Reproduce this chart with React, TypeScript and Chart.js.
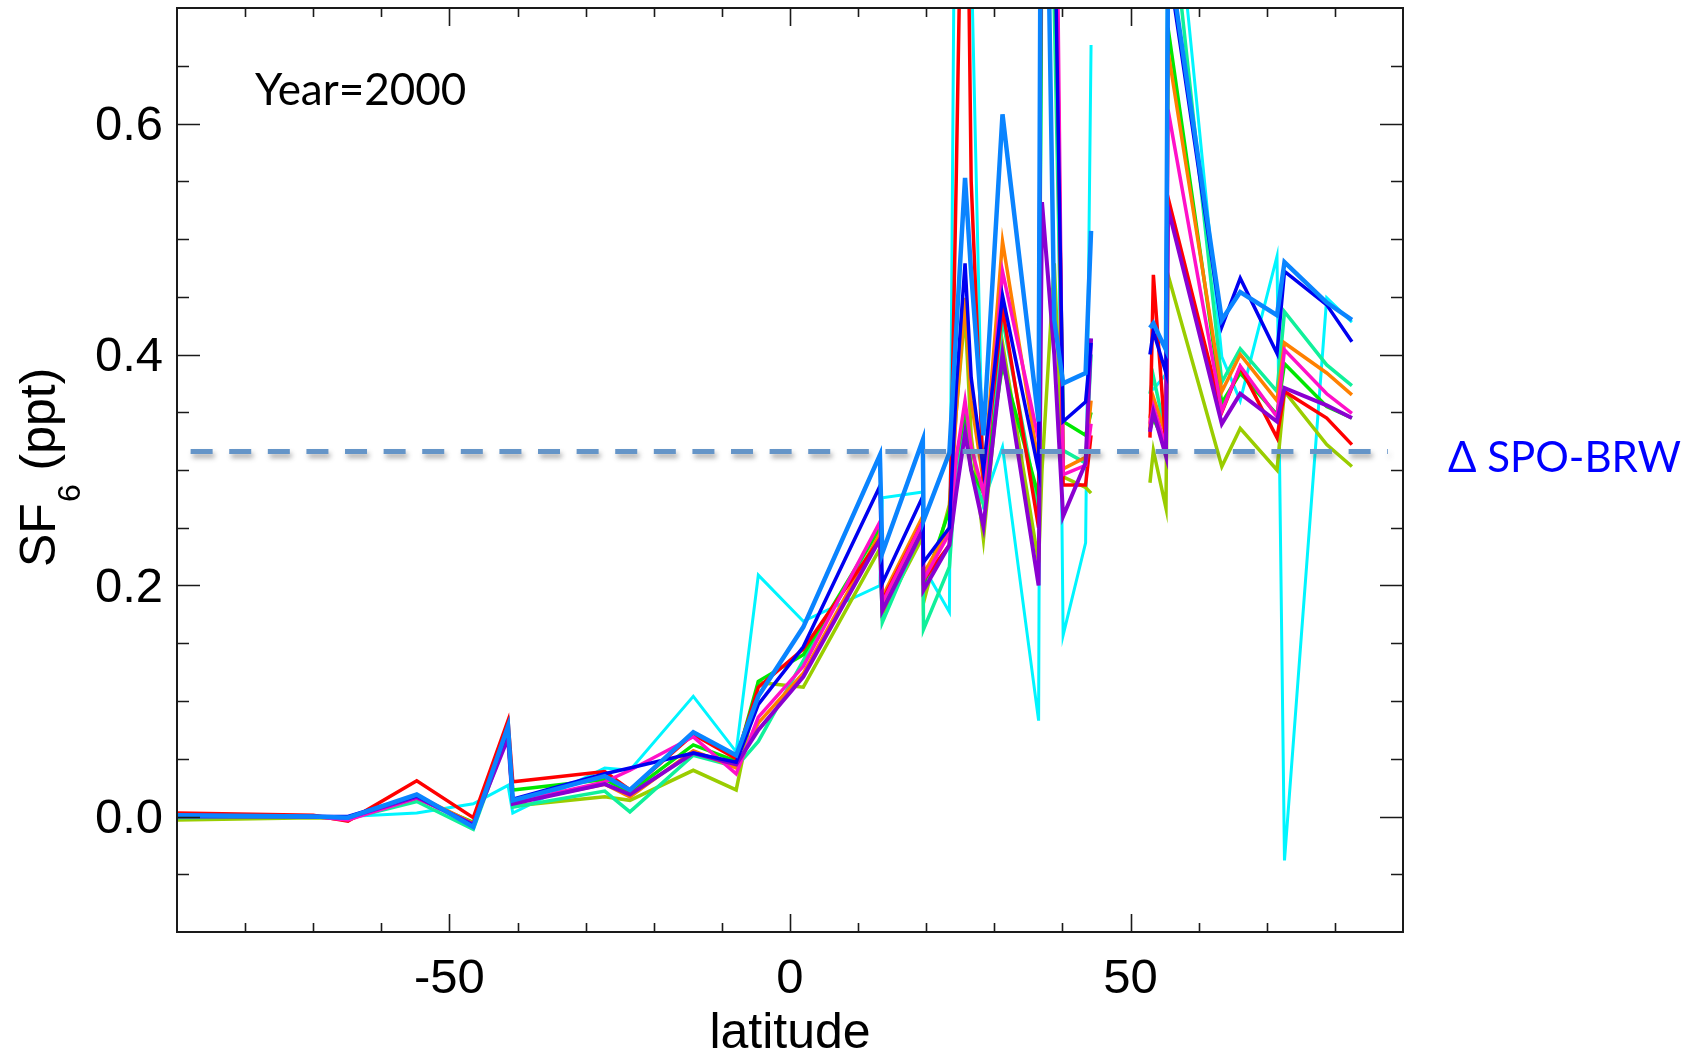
import { useEffect, useRef } from "react";
import { Chart, registerables } from "chart.js";

Chart.register(...registerables);

// ---------------- data ----------------
const latitudes = [
  -89.98, -70.0, -64.9, -54.8, -46.5, -41.4, -40.7, -27.2, -23.5, -14.2,
  -7.9, -4.65, 1.95, 13.2, 13.55, 19.5, 19.6, 23.4, 24.4, 25.7,
  26.6, 28.4, 31.2, 36.5, 37.0, 38.8, 40.1, 43.4, 44.2, 48.0,
  52.85, 53.35, 55.2, 55.5, 63.4, 66.1, 71.5, 72.6, 78.8, 82.5,
];

const sf6Red = [
  0.003, 0.001, -0.004, 0.031, -0.001, 0.083, 0.030, 0.039, 0.023, 0.071,
  0.050, 0.112, 0.145, 0.240, 0.187, 0.255, 0.205, 0.235, 0.55, 1.0,
  0.55, 0.29, 0.44, 0.25, 1.0, 0.9, 0.287, 0.287, 0.33, null,
  0.328, 0.469, 0.32, 0.536, 0.35, 0.389, 0.328, 0.368, 0.345, 0.322,
];
const sf6Orange = [
  0.001, 0.0, -0.003, 0.018, -0.006, 0.075, 0.012, 0.028, 0.017, 0.057,
  0.042, 0.081, 0.124, 0.245, 0.19, 0.26, 0.21, 0.25, 0.35, 0.449,
  0.36, 0.29, 0.498, 0.305, 1.0, 0.9, 0.301, 0.311, 0.36, null,
  0.345, 0.363, 0.33, 0.663, 0.368, 0.40, 0.36, 0.41, 0.384, 0.365,
];
const sf6YellowGreen = [
  -0.003, -0.001, -0.002, 0.016, -0.006, 0.072, 0.009, 0.017, 0.014, 0.040,
  0.023, 0.116, 0.112, 0.232, 0.175, 0.242, 0.185, 0.27, 0.35, 0.437,
  0.33, 0.24, 0.41, 0.22, 0.30, 0.479, 0.294, 0.285, 0.28, null,
  0.289, 0.317, 0.267, 0.469, 0.303, 0.336, 0.30, 0.368, 0.322, 0.303,
];
const sf6Green = [
  0.0, 0.0, -0.001, 0.016, -0.005, 0.074, 0.023, 0.032, 0.021, 0.062,
  0.048, 0.117, 0.14, 0.25, 0.182, 0.254, 0.2, 0.265, 0.31, 0.35,
  0.3, 0.28, 0.391, 0.277, 0.85, 0.8, 0.342, 0.33, 0.35, null,
  0.335, 0.345, 0.32, 0.683, 0.358, 0.384, 0.348, 0.392, 0.355, 0.345,
];
const sf6SpringGreen = [
  -0.001, 0.0, -0.002, 0.013, -0.011, 0.072, 0.008, 0.022, 0.004, 0.053,
  0.043, 0.065, 0.135, 0.25, 0.168, 0.25, 0.162, 0.216, 0.30, 0.34,
  0.30, 0.27, 0.431, 0.265, 0.8, 0.7, 0.317, 0.306, 0.40, null,
  0.366, 0.381, 0.33, 0.81, 0.376, 0.405, 0.368, 0.437, 0.391, 0.373,
];
const sf6Cyan = [
  0.0, 0.0, 0.0, 0.003, 0.011, 0.027, 0.003, 0.042, 0.040, 0.104,
  0.056, 0.209, 0.169, 0.20, 0.276, 0.281, 0.216, 0.177, 1.0, 1.0,
  0.75, 0.272, 0.32, 0.083, 0.9, 0.9, 0.157, 0.237, 0.668, null,
  0.37, 0.37, 0.383, 0.87, 0.398, 0.36, 0.485, -0.038, 0.449, 0.428,
];
const sf6DodgerBlue = [
  0.001, 0.0, -0.001, 0.019, -0.009, 0.078, 0.014, 0.035, 0.023, 0.073,
  0.053, 0.104, 0.164, 0.313, 0.228, 0.326, 0.256, 0.315, 0.42, 0.553,
  0.47, 0.33, 0.608, 0.342, 1.1, 0.43, 0.375, 0.384, 0.507, null,
  0.423, 0.427, 0.404, 0.75, 0.43, 0.454, 0.434, 0.48, 0.445, 0.43,
];
const sf6Blue = [
  0.001, 0.0, 0.0, 0.018, -0.008, 0.076, 0.015, 0.037, 0.042, 0.055,
  0.047, 0.097, 0.147, 0.286, 0.202, 0.277, 0.22, 0.25, 0.37, 0.479,
  0.38, 0.30, 0.451, 0.299, 1.0, 0.8, 0.342, 0.359, 0.41, null,
  0.40, 0.42, 0.384, 0.74, 0.424, 0.466, 0.401, 0.472, 0.443, 0.411,
];
const sf6Purple = [
  0.0, 0.0, -0.001, 0.017, -0.007, 0.068, 0.011, 0.028, 0.019, 0.055,
  0.045, 0.075, 0.121, 0.24, 0.178, 0.248, 0.196, 0.235, 0.28, 0.332,
  0.30, 0.251, 0.401, 0.20, 0.532, 0.40, 0.26, 0.306, 0.414, null,
  0.333, 0.35, 0.312, 0.527, 0.34, 0.366, 0.342, 0.371, 0.356, 0.345,
];
const sf6Magenta = [
  0.001, 0.0, -0.003, 0.016, -0.007, 0.072, 0.012, 0.030, 0.040, 0.069,
  0.037, 0.086, 0.13, 0.255, 0.185, 0.255, 0.205, 0.245, 0.31, 0.36,
  0.32, 0.28, 0.472, 0.326, 1.0, 1.0, 0.296, 0.304, 0.34, null,
  0.34, 0.355, 0.32, 0.612, 0.351, 0.39, 0.346, 0.404, 0.366, 0.349,
];

const spoBrwDelta = 0.316;
const refLineLats = [-88.0, 87.8];

const xTickValues = [-50, 0, 50];
const yTickValues = [0.0, 0.2, 0.4, 0.6];
const xMinorTicks = [-80, -70, -60, -50, -40, -30, -20, -10, 0, 10, 20, 30, 40, 50, 60, 70, 80];
const yMinorTicks = [-0.05, 0.0, 0.05, 0.1, 0.15, 0.2, 0.25, 0.3, 0.35, 0.4, 0.45, 0.5, 0.55, 0.6, 0.65];

const yearLabel = "Year=2000";
const refLabel = "\u0394 SPO-BRW";
const xTitle = "latitude";

// ---------------- styles ----------------
const W = 1703;
const H = 1056;
const SANS = "'Liberation Sans', Arial, sans-serif";
const CAL = "Lato, 'Open Sans', sans-serif";

const seriesDefs = [
  { data: sf6DodgerBlue, color: "#0a84ff", width: 4.5, order: 1 },
  { data: sf6Blue, color: "#0000f0", width: 3.5, order: 2 },
  { data: sf6Purple, color: "#8a00d0", width: 4, order: 3 },
  { data: sf6Magenta, color: "#ff10c8", width: 3.5, order: 4 },
  { data: sf6Red, color: "#ff0000", width: 3.5, order: 5 },
  { data: sf6Orange, color: "#ff8000", width: 3.5, order: 6 },
  { data: sf6Green, color: "#00e800", width: 3.5, order: 7 },
  { data: sf6SpringGreen, color: "#10f09a", width: 3.5, order: 8 },
  { data: sf6YellowGreen, color: "#9acd00", width: 3.5, order: 9 },
  { data: sf6Cyan, color: "#00f5ff", width: 3, order: 10 },
];

const framePlugin = {
  id: "idlFrame",
  beforeDatasetDraw(chart: any, args: any) {
    const ds = chart.data.datasets[args.index];
    if (ds && ds._isRef) {
      const ctx = chart.ctx;
      ctx.save();
      ctx.shadowColor = "rgba(70,70,70,0.45)";
      ctx.shadowBlur = 5;
      ctx.shadowOffsetX = 2;
      ctx.shadowOffsetY = 4;
    }
  },
  afterDatasetDraw(chart: any, args: any) {
    const ds = chart.data.datasets[args.index];
    if (ds && ds._isRef) chart.ctx.restore();
  },
  afterDraw(chart: any) {
    const { ctx, chartArea: a, scales } = chart;
    const xs = scales.x;
    const ys = scales.y;
    ctx.save();
    ctx.strokeStyle = "#1a1a1a";
    ctx.lineWidth = 2;
    ctx.beginPath();
    ctx.rect(a.left, a.top, a.right - a.left, a.bottom - a.top);
    ctx.stroke();
    ctx.lineWidth = 1.6;
    ctx.beginPath();
    for (const v of xMinorTicks) {
      const px = Math.round(xs.getPixelForValue(v)) + 0.5;
      const len = v % 50 === 0 ? 18 : 9;
      ctx.moveTo(px, a.bottom);
      ctx.lineTo(px, a.bottom - len);
      ctx.moveTo(px, a.top);
      ctx.lineTo(px, a.top + len);
    }
    for (const v of yMinorTicks) {
      const py = Math.round(ys.getPixelForValue(v)) + 0.5;
      const major = yTickValues.some((t) => Math.abs(t - v) < 1e-6);
      const len = major ? 23 : 12;
      ctx.moveTo(a.left, py);
      ctx.lineTo(a.left + len, py);
      ctx.moveTo(a.right, py);
      ctx.lineTo(a.right - len, py);
    }
    ctx.stroke();

    // texts
    ctx.fillStyle = "#000";
    ctx.textBaseline = "alphabetic";
    ctx.textAlign = "left";
    ctx.font = `44px ${CAL}`;
    ctx.fillText(yearLabel, 255, 105);

    ctx.fillStyle = "#0000ff";
    ctx.font = `42px ${CAL}`;
    ctx.fillText(refLabel, 1448, 472);

    ctx.fillStyle = "#000";
    ctx.textAlign = "center";
    ctx.font = `50px ${SANS}`;
    ctx.fillText(xTitle, (a.left + a.right) / 2, 1048);

    // y title: SF6 (ppt) with subscript
    ctx.save();
    ctx.translate(55, 567);
    ctx.rotate(-Math.PI / 2);
    ctx.textAlign = "left";
    ctx.font = `50px ${SANS}`;
    ctx.fillText("SF", 0, 0);
    let w = ctx.measureText("SF").width;
    ctx.font = `32px ${SANS}`;
    ctx.fillText("6", w + 1, 25);
    w += ctx.measureText("6").width + 1;
    ctx.font = `50px ${SANS}`;
    ctx.fillText(" (ppt)", w, 0);
    ctx.restore();

    ctx.restore();
  },
};

export default function App() {
  const ref = useRef<HTMLCanvasElement | null>(null);

  useEffect(() => {
    document.body.style.margin = "0";
    const canvas = ref.current;
    if (!canvas) return;

    const datasets: any[] = seriesDefs.map((s) => ({
      data: latitudes.map((lat, i) => ({ x: lat, y: s.data[i] })),
      borderColor: s.color,
      backgroundColor: s.color,
      borderWidth: s.width,
      pointRadius: 0,
      tension: 0,
      spanGaps: false,
      order: s.order,
    }));
    datasets.push({
      _isRef: true,
      data: refLineLats.map((lat) => ({ x: lat, y: spoBrwDelta })),
      borderColor: "#6595c8",
      borderWidth: 5,
      borderDash: [22, 16.6],
      pointRadius: 0,
      order: 0,
    });

    const chart = new Chart(canvas, {
      type: "line",
      data: { datasets },
      options: {
        animation: false,
        responsive: false,
        devicePixelRatio: 1,
        layout: { padding: { left: 0, right: 300, top: 8, bottom: 0 } },
        plugins: { legend: { display: false }, tooltip: { enabled: false } },
        scales: {
          x: {
            type: "linear",
            min: -90,
            max: 90,
            afterBuildTicks: (s: any) => {
              s.ticks = xTickValues.map((v) => ({ value: v }));
            },
            afterFit: (s: any) => {
              s.height = 124;
              s.paddingLeft = 0;
              s.paddingRight = 0;
            },
            grid: { display: false, drawTicks: false },
            border: { display: false },
            ticks: {
              autoSkip: false,
              maxRotation: 0,
              padding: 18,
              color: "#000",
              font: { family: SANS, size: 49 },
              callback: (v: any) => String(v),
            },
          },
          y: {
            type: "linear",
            min: -0.1,
            max: 0.7,
            afterBuildTicks: (s: any) => {
              s.ticks = yTickValues.map((v) => ({ value: v }));
            },
            afterFit: (s: any) => {
              s.width = 177;
              s.paddingTop = 0;
              s.paddingBottom = 0;
            },
            grid: { display: false, drawTicks: false },
            border: { display: false },
            ticks: {
              autoSkip: false,
              padding: 14,
              labelOffset: 3,
              color: "#000",
              font: { family: SANS, size: 49 },
              callback: (v: any) => Number(v).toFixed(1),
            },
          },
        },
      } as any,
      plugins: [framePlugin],
    });

    return () => chart.destroy();
  }, []);

  return (
    <div style={{ width: W, height: H, background: "#fff" }}>
      <canvas ref={ref} width={W} height={H} style={{ display: "block", width: W, height: H }} />
    </div>
  );
}
